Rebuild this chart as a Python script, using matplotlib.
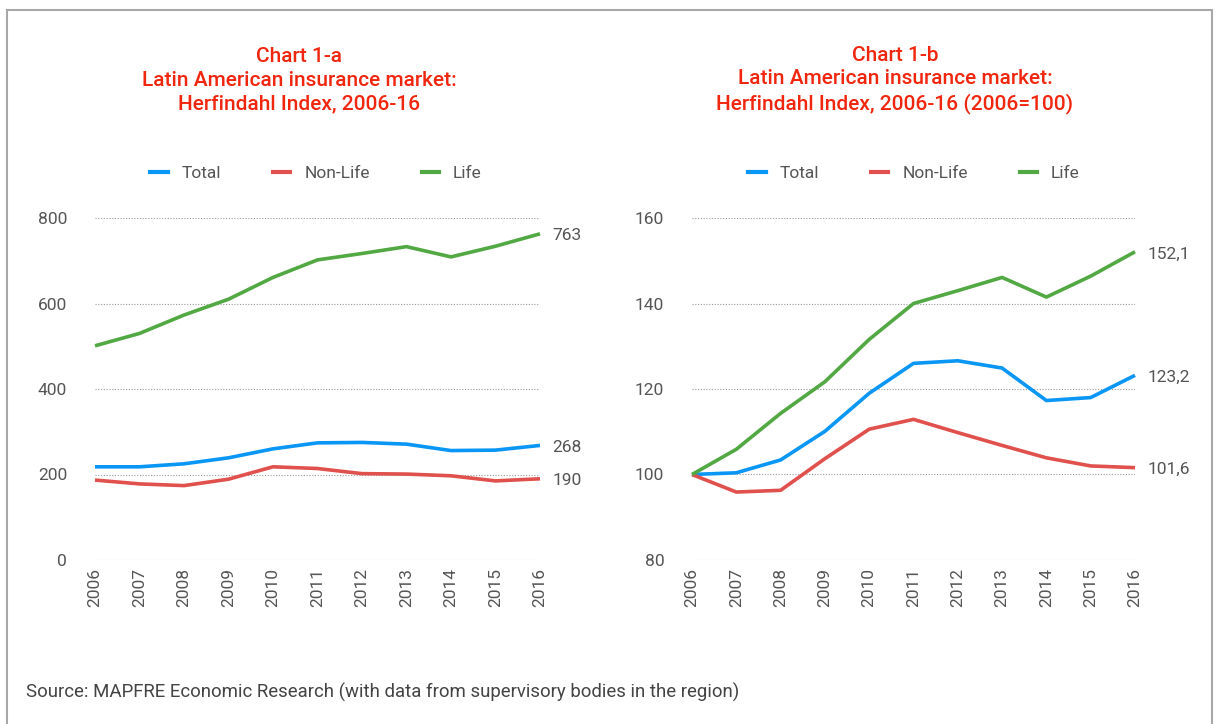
import numpy as np
import matplotlib
matplotlib.use("Agg")
from matplotlib import pyplot as plt
from matplotlib.patches import Rectangle
from matplotlib.lines import Line2D

plt.rcParams['font.family'] = ['Roboto', 'DejaVu Sans']

years = list(range(2006, 2017))

# Chart 1-a: Herfindahl index
total_a = [218, 218, 225, 239, 260, 274, 275, 271, 256, 257, 268]
nonlife_a = [187, 178, 174, 189, 218, 214, 202, 201, 197, 185, 190]
life_a = [501, 530, 573, 610, 661, 702, 717, 733, 709, 734, 763]

# Chart 1-b: index 2006=100
total_b = [100, 100.4, 103.4, 110.1, 119.0, 126.0, 126.6, 124.9, 117.3, 118.0, 123.2]
nonlife_b = [100, 95.9, 96.3, 103.7, 110.6, 112.9, 109.8, 106.8, 103.9, 102.0, 101.6]
life_b = [100, 105.9, 114.3, 121.7, 131.6, 140.0, 143.0, 146.1, 141.5, 146.4, 152.1]

end_labels_a = ["268", "190", "763"]
end_labels_b = ["123,2", "101,6", "152,1"]

titles = ["Chart 1-a\nLatin American insurance market:\nHerfindahl Index, 2006-16",
          "Chart 1-b\nLatin American insurance market:\nHerfindahl Index, 2006-16 (2006=100)"]
series_names = ["Total", "Non-Life", "Life"]
colors = ["#0a96f5", "#e0504c", "#52a843"]
title_color = "#f0260f"
text_color = "#555555"

W, H = 1219, 724
fig = plt.figure(figsize=(W / 100, H / 100), dpi=100)

# outer frame
fig.patches.append(Rectangle((6.5 / W, -0.05), (1212 - 6.5) / W, 1.05 - 10 / H,
                             transform=fig.transFigure, fill=False,
                             edgecolor="#a8a8a8", linewidth=1.5))

def px_axes(x0, x1, y0, y1):
    return fig.add_axes([x0 / W, 1 - y1 / H, (x1 - x0) / W, (y1 - y0) / H])

ax_a = px_axes(95, 540, 218, 560)
ax_b = px_axes(692, 1135, 218, 560)

# axes, data, end labels, ylim, yticks, title centre x, legend centre x
panels = [
    (ax_a, [total_a, nonlife_a, life_a], end_labels_a, (0, 800), [0, 200, 400, 600, 800], 299, 316),
    (ax_b, [total_b, nonlife_b, life_b], end_labels_b, (80, 160), [80, 100, 120, 140, 160], 895, 914),
]

for i, (ax, data, labels, ylim, yticks, tx, lx) in enumerate(panels):
    for vals, c, lab in zip(data, colors, labels):
        ax.plot(years, vals, color=c, linewidth=2.6, solid_capstyle='butt', clip_on=False)
        ax.annotate(lab, (years[-1], vals[-1]), xytext=(9, -1.5),
                    textcoords='offset points', va='center', ha='left',
                    fontsize=12.5, color=text_color)
    ax.set_xlim(years[0], years[-1])
    ax.set_ylim(*ylim)
    ax.set_yticks(yticks)
    ax.set_xticks(years)
    ax.set_xticklabels([str(y) for y in years], rotation=90)
    ax.grid(axis='y', linestyle=(0, (1, 1.5)), color='#9a9a9a', linewidth=0.8)
    ax.set_axisbelow(True)
    for s in ax.spines.values():
        s.set_visible(False)
    ax.tick_params(axis='both', length=0, labelsize=12.5, labelcolor=text_color)
    ax.tick_params(axis='y', pad=20)
    ax.tick_params(axis='x', pad=6)
    ax.set_facecolor('none')

    fig.text(tx / W, 1 - 80 / H, titles[i], ha='center', va='center',
             fontsize=15, fontweight='medium', color=title_color, linespacing=1.32)

    handles = [Line2D([], [], color=c, linewidth=3) for c in colors]
    fig.legend(handles, series_names, loc='center', ncol=3,
               bbox_to_anchor=(lx / W, 1 - 173 / H), frameon=False,
               fontsize=12.5, labelcolor=text_color, handlelength=1.0,
               columnspacing=3.0, handletextpad=0.8)

fig.text(26 / W, 1 - 692 / H,
         "Source: MAPFRE Economic Research (with data from supervisory bodies in the region)",
         ha='left', va='center', fontsize=13.4, color="#444444")

fig.savefig("out.png", dpi=100)
